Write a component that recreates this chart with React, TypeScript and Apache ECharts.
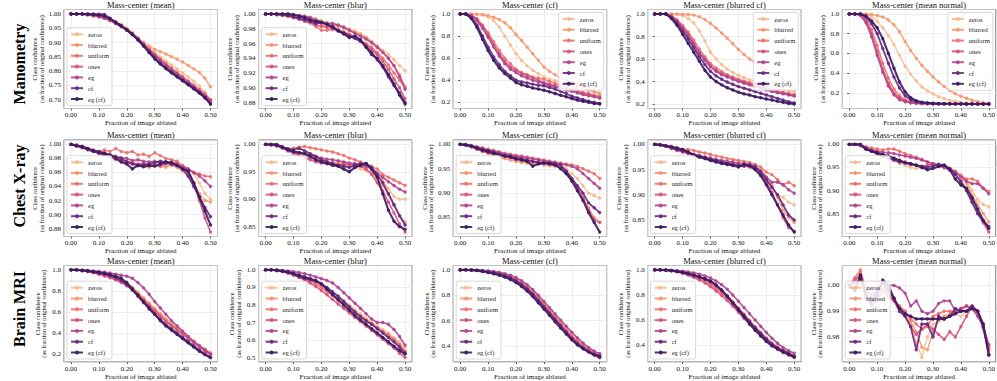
import React, { useEffect, useRef } from "react";
import * as echarts from "echarts";

// ---------- data ----------
const ablatedFractions = [0, 0.02, 0.04, 0.06, 0.08, 0.1, 0.12, 0.14, 0.16, 0.18, 0.2, 0.22, 0.24, 0.26, 0.28, 0.3, 0.32, 0.34, 0.36, 0.38, 0.4, 0.42, 0.44, 0.46, 0.48, 0.5];
const methods = ["zeros", "blurred", "uniform", "ones", "eg", "cf", "eg (cf)"];
const rowLabels = ["Manometry", "Chest X-ray", "Brain MRI"];
const columnTitles = ["Mass-center (mean)", "Mass-center (blur)", "Mass-center (cf)", "Mass-center (blurred cf)", "Mass-center (mean normal)"];

// y tick steps and label decimals per row
const yTickSteps = [[0.05, 0.02, 0.2, 0.2, 0.2], [0.02, 0.05, 0.05, 0.05, 0.05], [0.2, 0.1, 0.2, 0.2, 0.01]];
const yTickDecimals = [[2, 2, 1, 1, 1], [2, 2, 2, 2, 2], [1, 1, 1, 1, 2]];

// order of rows in each panel array: zeros, blurred, uniform, ones, eg, cf, eg (cf)
const manometryMean = [
  [1, 1, 1, .999, .997, .994, .99, .984, .975, .964, .951, .936, .918, .9, .882, .865, .85, .836, .822, .808, .794, .78, .765, .748, .726, .7],
  [1, 1, .999, .998, .995, .992, .987, .98, .97, .959, .947, .932, .916, .9, .888, .876, .868, .86, .851, .842, .832, .82, .808, .795, .775, .745],
  [1, 1, .999, .997, .994, .99, .985, .977, .967, .956, .943, .928, .912, .895, .877, .86, .843, .827, .811, .796, .781, .766, .751, .736, .72, .7],
  [1, 1, .999, .997, .994, .99, .985, .977, .967, .956, .943, .928, .911, .893, .874, .856, .839, .823, .807, .792, .777, .762, .747, .732, .716, .698],
  [1, 1, 1, .998, .995, .991, .986, .978, .968, .957, .944, .929, .912, .894, .874, .855, .837, .82, .804, .789, .774, .759, .744, .729, .713, .695],
  [1, 1, 1, 1, 1, .999, .998, .985, .972, .96, .946, .93, .912, .89, .868, .846, .828, .812, .797, .783, .769, .755, .74, .725, .708, .685],
  [1, 1, 1, .999, .998, .996, .993, .983, .97, .958, .944, .928, .909, .888, .865, .843, .825, .809, .794, .78, .766, .752, .738, .723, .707, .685],
];
const manometryBlur = [
  [1, 1, 1, 1, 1, .999, .998, .997, .996, .994, .991, .989, .987, .985, .983, .98, .977, .974, .969, .963, .957, .951, .945, .938, .93, .923],
  [1, 1, 1, .999, .999, .998, .997, .996, .993, .99, .986, .983, .984, .983, .981, .978, .975, .972, .967, .962, .955, .948, .94, .93, .918, .902],
  [1, 1, .999, .999, .998, .996, .994, .991, .988, .983, .978, .978, .979, .978, .976, .973, .969, .965, .96, .955, .948, .94, .931, .92, .91, .9],
  [1, 1, .999, .998, .997, .995, .993, .99, .988, .985, .983, .982, .98, .978, .975, .972, .968, .963, .958, .952, .945, .936, .925, .912, .9, .885],
  [1, 1, 1, 1, 1, .999, .998, .997, .995, .992, .989, .987, .987, .985, .982, .978, .974, .97, .966, .961, .955, .948, .94, .93, .915, .898],
  [1, 1, 1, .999, .998, .996, .994, .992, .99, .987, .988, .986, .983, .978, .974, .97, .967, .963, .956, .948, .938, .928, .915, .903, .893, .88],
  [1, 1, 1, 1, 1, .999, .997, .995, .992, .99, .989, .986, .982, .977, .973, .968, .97, .965, .955, .945, .94, .93, .918, .905, .89, .878],
];
const manometryCf = [
  [1, 1, 1, .998, .99, .975, .94, .88, .8, .72, .64, .58, .53, .49, .46, .43, .41, .395, .38, .365, .35, .335, .32, .305, .29, .28],
  [1, 1, 1, .998, .995, .985, .97, .95, .92, .875, .815, .76, .7, .64, .58, .52, .48, .45, .42, .4, .38, .36, .34, .32, .3, .28],
  [1, 1, .99, .96, .9, .83, .75, .67, .6, .55, .5, .47, .45, .43, .42, .41, .39, .37, .355, .34, .32, .305, .29, .28, .265, .255],
  [1, 1, .985, .95, .89, .81, .72, .64, .57, .52, .49, .46, .44, .42, .4, .38, .365, .35, .335, .32, .31, .295, .28, .27, .255, .24],
  [1, 1, .985, .94, .87, .79, .7, .62, .55, .5, .47, .44, .42, .4, .385, .37, .355, .34, .325, .31, .3, .285, .27, .26, .25, .24],
  [1, 1, .97, .9, .8, .7, .61, .54, .48, .44, .4, .385, .375, .365, .355, .35, .335, .32, .3, .28, .255, .24, .225, .21, .2, .19],
  [1, 1, .96, .88, .77, .67, .58, .51, .46, .42, .38, .36, .345, .33, .32, .31, .295, .28, .265, .25, .235, .22, .21, .2, .19, .185],
];
const manometryBlurredCf = [
  [1, 1, 1, 1, .995, .985, .96, .92, .85, .76, .66, .6, .55, .51, .48, .455, .435, .415, .4, .385, .37, .355, .34, .33, .32, .31],
  [1, 1, 1, 1, 1, .998, .995, .99, .975, .95, .915, .875, .83, .785, .735, .685, .64, .6, .565, .535, .505, .475, .45, .42, .39, .36],
  [1, 1, 1, .985, .95, .9, .84, .77, .69, .62, .56, .52, .49, .46, .44, .42, .405, .39, .375, .36, .345, .33, .315, .305, .295, .285],
  [1, 1, 1, .98, .94, .88, .82, .74, .66, .6, .54, .5, .47, .45, .43, .41, .395, .38, .365, .35, .335, .32, .305, .295, .285, .275],
  [1, 1, 1, .98, .935, .875, .81, .73, .65, .59, .53, .49, .46, .44, .42, .4, .385, .37, .355, .34, .325, .31, .3, .29, .28, .27],
  [1, 1, 1, .97, .92, .85, .78, .7, .62, .55, .49, .45, .42, .395, .375, .355, .34, .325, .31, .295, .28, .265, .25, .235, .22, .21],
  [1, 1, 1, .96, .9, .82, .74, .66, .58, .5, .44, .4, .37, .345, .325, .305, .29, .28, .265, .255, .245, .235, .225, .215, .205, .2],
];
const manometryMeanNormal = [
  [1, 1, 1, .995, .975, .925, .86, .78, .69, .58, .47, .39, .32, .26, .22, .19, .16, .14, .125, .115, .105, .1, .095, .092, .09, .09],
  [1, 1, 1, 1, .995, .985, .97, .94, .89, .82, .72, .63, .55, .48, .42, .36, .31, .265, .225, .19, .165, .145, .125, .11, .1, .095],
  [1, 1, .995, .95, .84, .68, .5, .35, .24, .17, .13, .11, .1, .095, .092, .09, .089, .089, .088, .088, .088, .087, .087, .087, .087, .087],
  [1, 1, .99, .93, .8, .62, .44, .3, .2, .15, .12, .1, .095, .092, .09, .09, .089, .089, .088, .088, .088, .087, .087, .087, .087, .087],
  [1, 1, .985, .91, .77, .58, .41, .27, .18, .13, .11, .1, .094, .091, .09, .089, .088, .088, .088, .087, .087, .087, .087, .087, .087, .087],
  [1, 1, 1, .97, .9, .8, .65, .5, .36, .25, .17, .13, .11, .1, .095, .092, .09, .089, .088, .088, .088, .087, .087, .087, .087, .087],
  [1, 1, 1, .98, .93, .86, .75, .6, .45, .31, .21, .15, .12, .105, .098, .094, .092, .09, .089, .088, .088, .087, .087, .087, .087, .087],
];

const chestMean = [
  [1, .998, .996, .993, .99, .988, .985, .983, .98, .978, .975, .972, .97, .969, .967, .97, .968, .967, .972, .97, .968, .965, .958, .945, .93, .922],
  [1, .997, .996, .994, .99, .987, .984, .982, .978, .976, .975, .973, .972, .97, .968, .97, .972, .968, .97, .967, .962, .955, .945, .93, .92, .918],
  [1, .999, .997, .994, .99, .99, .992, .99, .994, .99, .988, .99, .985, .986, .983, .988, .984, .98, .978, .976, .97, .965, .96, .958, .955, .954],
  [1, .998, .995, .992, .99, .987, .985, .982, .98, .978, .976, .974, .972, .973, .97, .971, .969, .972, .975, .973, .968, .96, .945, .92, .895, .875],
  [1, .999, .997, .994, .992, .99, .988, .985, .983, .981, .98, .977, .978, .976, .975, .976, .974, .973, .972, .971, .968, .965, .96, .955, .948, .94],
  [1, .998, .996, .993, .99, .988, .986, .984, .982, .98, .975, .972, .97, .971, .972, .974, .976, .975, .972, .97, .965, .955, .94, .925, .91, .897],
  [1, .998, .997, .994, .991, .989, .987, .985, .98, .975, .972, .965, .97, .968, .97, .969, .972, .975, .974, .97, .965, .962, .945, .925, .905, .885],
];
const chestBlur = [
  [1, .999, .997, .995, .99, .985, .98, .978, .975, .972, .97, .968, .966, .964, .962, .96, .958, .955, .952, .95, .945, .935, .92, .905, .9, .9],
  [1, .999, .997, .994, .99, .986, .982, .98, .977, .974, .971, .969, .967, .966, .965, .964, .962, .96, .955, .948, .938, .925, .91, .89, .87, .858],
  [1, 1, .998, .996, .992, .993, .995, .996, .994, .992, .99, .988, .986, .983, .98, .975, .972, .968, .965, .96, .955, .945, .94, .935, .93, .925],
  [1, .999, .997, .993, .988, .984, .98, .976, .972, .968, .966, .965, .964, .962, .964, .963, .963, .96, .955, .945, .93, .915, .895, .875, .855, .84],
  [1, .999, .998, .995, .99, .986, .985, .983, .98, .978, .975, .973, .972, .97, .968, .966, .965, .962, .96, .955, .948, .94, .932, .925, .918, .913],
  [1, 1, .998, .995, .992, .99, .993, .988, .983, .978, .972, .968, .965, .962, .96, .958, .962, .965, .964, .958, .945, .93, .91, .89, .87, .853],
  [1, 1, 1, .995, .99, .987, .985, .983, .978, .972, .968, .965, .962, .96, .955, .95, .958, .962, .965, .955, .94, .91, .88, .86, .85, .845],
];
const chestCf = [
  [1, .998, .995, .99, .985, .982, .978, .975, .972, .97, .968, .965, .963, .962, .96, .958, .957, .956, .955, .95, .94, .93, .915, .9, .895, .89],
  [1, .998, .995, .99, .986, .982, .978, .974, .971, .968, .965, .963, .962, .96, .96, .958, .956, .955, .953, .94, .925, .91, .89, .87, .85, .84],
  [1, 1, .998, .995, .993, .99, .988, .985, .982, .98, .978, .976, .974, .972, .97, .968, .966, .964, .962, .96, .958, .955, .95, .945, .94, .93],
  [1, .998, .995, .99, .986, .983, .98, .977, .975, .973, .97, .968, .966, .965, .963, .962, .96, .958, .955, .945, .93, .91, .89, .865, .845, .84],
  [1, 1, .997, .994, .99, .988, .986, .983, .98, .978, .975, .974, .972, .97, .968, .966, .964, .962, .96, .958, .955, .95, .94, .93, .92, .91],
  [1, .999, .997, .993, .99, .987, .984, .98, .977, .975, .972, .97, .968, .965, .963, .962, .962, .96, .958, .945, .93, .915, .9, .88, .87, .86],
  [1, .999, .996, .992, .988, .985, .982, .978, .976, .974, .97, .968, .965, .955, .96, .962, .96, .958, .95, .94, .925, .905, .885, .86, .84, .82],
];
const chestBlurredCf = [
  [1, .999, .997, .993, .99, .987, .984, .981, .978, .975, .972, .97, .968, .966, .963, .96, .96, .958, .955, .945, .93, .915, .9, .895, .885, .88],
  [1, .999, .996, .992, .988, .985, .982, .978, .975, .972, .97, .968, .966, .964, .962, .96, .958, .956, .953, .945, .935, .92, .895, .87, .855, .845],
  [1, 1, .998, .996, .993, .99, .99, .988, .985, .983, .98, .977, .975, .972, .97, .968, .966, .964, .96, .955, .945, .94, .93, .92, .925, .918],
  [1, .999, .996, .992, .988, .985, .982, .978, .975, .973, .97, .968, .966, .963, .96, .958, .957, .955, .95, .94, .925, .905, .88, .855, .835, .828],
  [1, .999, .997, .994, .99, .987, .984, .98, .977, .975, .973, .97, .968, .966, .965, .963, .962, .96, .957, .948, .935, .925, .925, .92, .91, .903],
  [1, .999, .997, .994, .99, .987, .984, .98, .977, .974, .97, .968, .965, .962, .96, .958, .957, .958, .955, .945, .93, .915, .9, .88, .86, .85],
  [1, .999, .997, .995, .993, .99, .985, .978, .975, .972, .968, .965, .962, .96, .958, .955, .96, .958, .95, .938, .92, .9, .88, .86, .84, .826],
];
const chestMeanNormal = [
  [1, 1, .998, .99, .985, .98, .975, .97, .965, .958, .955, .95, .948, .95, .952, .955, .953, .95, .945, .94, .935, .92, .9, .88, .87, .865],
  [1, 1, .997, .99, .985, .98, .976, .973, .97, .966, .962, .958, .955, .953, .955, .957, .955, .952, .948, .94, .93, .915, .89, .87, .85, .832],
  [1, 1, .998, .995, .992, .99, .988, .99, .99, .985, .98, .976, .972, .968, .962, .958, .955, .952, .948, .942, .932, .925, .925, .92, .905, .898],
  [1, 1, .997, .99, .985, .98, .975, .97, .968, .965, .962, .958, .955, .952, .955, .958, .954, .95, .945, .935, .92, .9, .875, .85, .83, .81],
  [1, 1, .998, .993, .988, .985, .983, .982, .98, .977, .975, .972, .97, .966, .962, .958, .955, .95, .945, .94, .93, .92, .915, .915, .905, .893],
  [1, 1, 1, .99, .985, .98, .975, .97, .966, .962, .96, .957, .955, .952, .95, .953, .957, .955, .948, .935, .92, .9, .875, .85, .835, .822],
  [1, 1, 1, .99, .985, .982, .978, .975, .97, .965, .96, .958, .955, .95, .945, .948, .952, .955, .945, .925, .912, .905, .885, .86, .835, .818],
];

const brainMean = [
  [1, 1, .995, .99, .985, .975, .965, .95, .93, .91, .88, .84, .79, .74, .69, .64, .59, .54, .49, .45, .41, .37, .33, .29, .25, .22],
  [1, 1, .995, .99, .98, .97, .958, .943, .925, .9, .87, .83, .78, .73, .68, .63, .58, .53, .48, .44, .4, .36, .32, .28, .24, .21],
  [1, 1, .995, .988, .978, .966, .952, .935, .915, .89, .86, .82, .77, .72, .67, .62, .57, .52, .48, .44, .4, .36, .32, .28, .25, .21],
  [1, 1, .994, .985, .972, .958, .943, .925, .905, .88, .85, .81, .76, .71, .66, .61, .56, .51, .47, .43, .39, .35, .31, .27, .23, .2],
  [1, 1, .998, .995, .99, .985, .978, .97, .96, .95, .94, .92, .88, .83, .77, .7, .64, .58, .52, .47, .42, .37, .32, .28, .24, .2],
  [1, 1, .995, .99, .98, .97, .96, .945, .925, .9, .86, .81, .75, .69, .63, .58, .53, .48, .44, .4, .36, .32, .28, .24, .2, .17],
  [1, 1, .995, .99, .985, .975, .965, .955, .94, .92, .88, .82, .76, .7, .64, .58, .52, .47, .43, .39, .35, .31, .27, .23, .2, .17],
];
const brainBlur = [
  [1, 1, .998, .995, .99, .98, .97, .958, .945, .93, .91, .89, .87, .85, .825, .8, .775, .75, .725, .7, .68, .66, .64, .615, .59, .555],
  [1, 1, .997, .993, .987, .977, .966, .953, .94, .925, .905, .882, .86, .836, .81, .785, .76, .738, .715, .693, .67, .648, .625, .6, .57, .535],
  [1, 1, .997, .992, .985, .975, .963, .95, .935, .918, .898, .876, .852, .828, .803, .778, .755, .732, .71, .69, .67, .65, .63, .605, .575, .535],
  [1, 1, .996, .99, .982, .97, .957, .942, .925, .905, .882, .858, .832, .806, .78, .755, .73, .705, .68, .655, .63, .605, .58, .555, .525, .5],
  [1, 1, .999, .997, .994, .99, .985, .978, .97, .96, .95, .94, .925, .9, .87, .84, .81, .78, .75, .72, .7, .7, .69, .66, .62, .57],
  [1, 1, .997, .992, .985, .975, .962, .95, .945, .935, .92, .9, .875, .85, .82, .79, .76, .735, .71, .69, .665, .64, .615, .59, .56, .525],
  [1, 1, .998, .994, .988, .98, .97, .96, .95, .94, .92, .89, .86, .83, .8, .77, .74, .715, .69, .665, .64, .615, .59, .565, .54, .52],
];
const brainCf = [
  [1, 1, 1, .998, .995, .99, .984, .976, .966, .952, .932, .905, .872, .832, .785, .735, .685, .635, .585, .54, .49, .45, .415, .385, .36, .34],
  [1, 1, 1, .997, .993, .987, .98, .972, .962, .948, .928, .9, .866, .826, .78, .73, .68, .63, .58, .53, .48, .44, .405, .375, .35, .33],
  [1, 1, 1, .997, .993, .987, .98, .97, .958, .942, .92, .892, .858, .818, .772, .722, .672, .622, .572, .522, .475, .435, .4, .37, .345, .325],
  [1, 1, .999, .996, .991, .984, .976, .966, .953, .936, .913, .884, .85, .81, .764, .715, .665, .615, .565, .515, .47, .43, .395, .365, .34, .31],
  [1, 1, 1, .998, .996, .992, .987, .98, .97, .958, .94, .915, .883, .845, .8, .752, .703, .654, .605, .556, .51, .465, .425, .39, .36, .34],
  [1, 1, .999, .996, .992, .986, .978, .968, .955, .938, .915, .885, .85, .808, .76, .71, .66, .61, .56, .51, .46, .42, .385, .355, .33, .31],
  [1, 1, .998, .994, .988, .98, .97, .958, .943, .925, .9, .87, .833, .79, .742, .692, .642, .592, .542, .495, .45, .41, .38, .355, .335, .32],
];
const brainBlurredCf = [
  [1, 1, .999, .996, .99, .982, .972, .96, .945, .925, .9, .87, .835, .795, .75, .7, .65, .6, .55, .505, .46, .42, .39, .36, .34, .32],
  [1, 1, .999, .995, .989, .98, .968, .954, .937, .916, .89, .86, .825, .785, .74, .69, .64, .59, .54, .495, .45, .41, .38, .355, .335, .315],
  [1, 1, .998, .994, .987, .977, .964, .948, .93, .908, .88, .848, .812, .772, .728, .68, .63, .58, .53, .485, .44, .405, .375, .35, .33, .31],
  [1, 1, .997, .992, .984, .972, .958, .94, .92, .896, .866, .832, .795, .755, .71, .662, .613, .564, .516, .472, .43, .395, .365, .34, .32, .3],
  [1, 1, 1, .998, .995, .99, .984, .976, .966, .952, .935, .912, .882, .845, .8, .75, .7, .65, .6, .55, .5, .455, .415, .38, .355, .335],
  [1, 1, .998, .994, .988, .98, .97, .958, .944, .928, .905, .875, .835, .79, .74, .69, .64, .59, .54, .495, .45, .41, .38, .355, .335, .31],
  [1, 1, .998, .994, .988, .98, .97, .958, .944, .93, .912, .88, .84, .79, .735, .68, .625, .57, .52, .475, .43, .395, .37, .345, .325, .305],
];
const brainMeanNormal = [
  [1, 1.001, 1.003, .998, .997, .996, .999, .995, .994, .992, .989, .985, .978, .972, .98, .985, .986, .987, .988, .989, .988, .99, .991, .99, .985, .974],
  [1, 1.002, 1.005, .999, .995, .997, 1.0, .996, .995, .991, .99, .986, .982, .976, .975, .982, .987, .988, .989, .99, .99, .992, .991, .989, .984, .975],
  [1, 1.003, 1.006, .998, .996, .998, 1.002, .997, .994, .992, .99, .987, .985, .983, .984, .988, .989, .99, .99, .99, .991, .992, .991, .99, .983, .975],
  [1, 1.002, 1.004, .996, .992, .994, .998, .996, .994, .99, .988, .984, .981, .983, .985, .983, .981, .979, .982, .98, .984, .988, .992, .99, .984, .976],
  [1, 1.001, 1.002, .998, .996, .999, 1.001, 1.0, 1.0, .999, .997, .992, .994, .99, .989, .99, .993, .994, .994, .99, .991, .992, .991, .988, .984, .977],
  [1, .998, 1.003, .995, .993, .998, 1.001, .998, .995, .99, .988, .984, .975, .985, .985, .98, .988, .987, .988, .991, .99, .99, .992, .99, .984, .973],
  [1, .998, 1.004, .996, .994, .996, 1.002, 1.0, .995, .991, .989, .988, .987, .987, .987, .987, .987, .987, .988, .989, .99, .99, .991, .99, .985, .973],
];

const panelRows = [
  [manometryMean, manometryBlur, manometryCf, manometryBlurredCf, manometryMeanNormal],
  [chestMean, chestBlur, chestCf, chestBlurredCf, chestMeanNormal],
  [brainMean, brainBlur, brainCf, brainBlurredCf, brainMeanNormal],
];
// legend corner per panel: "ll" lower-left, "ur" upper-right
const legendCorners = [["ll", "ll", "ur", "ur", "ur"], ["ll", "ll", "ll", "ll", "ll"], ["ll", "ll", "ll", "ll", "ll"]];

// ---------- style / layout ----------
const FONT = '"Liberation Serif", "DejaVu Serif", "Times New Roman", serif';
const COLORS = ["#f9b98c", "#f7966e", "#ef6f6c", "#d8527c", "#b0468f", "#6a2a80", "#3c1c63"];
const WIDTHS = [1.3, 1.4, 1.5, 1.6, 1.7, 1.9, 2.1];
const W = 997;
const H = 381;
const COL_LEFT = [64, 258.6, 453.2, 647.7, 842.3];
const PLOT_W = 153.5;
const ROW_TOP = [9.5, 140, 265.5];
const ROW_H = [99, 96.5, 96.5];
const ROW_LABEL_Y = [64, 186, 309];

function buildOption() {
  const grids: any[] = [];
  const xAxes: any[] = [];
  const yAxes: any[] = [];
  const series: any[] = [];
  const legends: any[] = [];
  const graphics: any[] = [];

  panelRows.forEach((row, r) => {
    graphics.push({
      type: "text",
      x: 19,
      y: ROW_LABEL_Y[r],
      rotation: Math.PI / 2,
      style: {
        text: rowLabels[r],
        fontSize: 16,
        fontWeight: "bold",
        fontFamily: FONT,
        fill: "#000",
        align: "center",
        verticalAlign: "middle",
        textAlign: "center",
        textVerticalAlign: "middle",
      },
    });
    row.forEach((panel, c) => {
      const g = r * 5 + c;
      const left = COL_LEFT[c];
      const top = ROW_TOP[r];
      const h = ROW_H[r];
      let lo = Infinity;
      let hi = -Infinity;
      panel.forEach((s) => s.forEach((v) => { lo = Math.min(lo, v); hi = Math.max(hi, v); }));
      const pad = (hi - lo) * 0.05;
      const step = yTickSteps[r][c];
      const dec = yTickDecimals[r][c];

      grids.push({
        left, top, width: PLOT_W, height: h,
        show: true, borderColor: "#4a4a4a", borderWidth: 0.8, backgroundColor: "#fff",
        containLabel: false, outerBoundsMode: "none",
      });
      xAxes.push({
        type: "value", gridIndex: g, min: -0.025, max: 0.525,
        minInterval: 0.1, maxInterval: 0.1, splitNumber: 5,
        axisLine: { show: false },
        axisTick: { show: true, length: 2, lineStyle: { color: "#333", width: 0.8 } },
        axisLabel: {
          fontSize: 7, fontFamily: FONT, color: "#111", margin: 3,
          showMinLabel: false, showMaxLabel: false,
          formatter: (v: number) => v.toFixed(2),
        },
        splitLine: { show: true, lineStyle: { color: "#e6e6e6", width: 0.7 } },
        name: "Fraction of image ablated", nameLocation: "middle", nameGap: 11,
        nameTextStyle: { fontSize: 7, fontFamily: FONT, color: "#111" },
      });
      yAxes.push({
        type: "value", gridIndex: g, min: lo - pad, max: hi + pad,
        minInterval: step, maxInterval: step, splitNumber: 5,
        axisLine: { show: false },
        axisTick: { show: true, length: 2, lineStyle: { color: "#333", width: 0.8 } },
        axisLabel: {
          fontSize: 7, fontFamily: FONT, color: "#111", margin: 3,
          showMinLabel: false, showMaxLabel: false,
          formatter: (v: number) => v.toFixed(dec),
        },
        splitLine: { show: true, lineStyle: { color: "#e6e6e6", width: 0.7 } },
        name: "Class confidence\n(as fraction of original confidence)",
        nameLocation: "middle", nameGap: 17,
        nameTextStyle: { fontSize: 6.3, lineHeight: 6.6, fontFamily: FONT, color: "#111" },
      });
      graphics.push({
        type: "text",
        x: left + PLOT_W / 2,
        y: top - 5,
        style: {
          text: columnTitles[c], fontSize: 8.5, fontFamily: FONT, fill: "#111",
          align: "center", verticalAlign: "middle", textAlign: "center", textVerticalAlign: "middle",
        },
      });
      panel.forEach((vals, m) => {
        series.push({
          type: "line", name: methods[m], xAxisIndex: g, yAxisIndex: g,
          data: ablatedFractions.map((x, i) => [x, vals[i]]),
          symbol: "circle", symbolSize: 3.4,
          lineStyle: { color: COLORS[m], width: WIDTHS[m], opacity: 0.9 },
          itemStyle: { color: COLORS[m], opacity: 0.9 },
          emphasis: { disabled: true },
          silent: true, z: 2 + m,
        });
      });
      const corner = legendCorners[r][c];
      const lg: any = {
        orient: "vertical", itemWidth: 12, itemHeight: 5, itemGap: 3.8,
        padding: [3, 3, 3, 3], backgroundColor: "rgba(255,255,255,0.85)",
        borderColor: "#cfcfcf", borderWidth: 0.8, borderRadius: 2,
        textStyle: { fontSize: 6.5, fontFamily: FONT, color: "#222" },
        data: methods, selectedMode: false, z: 20,
      };
      if (corner === "ll") {
        lg.left = left + 3;
        lg.bottom = H - (top + h) + 3;
      } else {
        lg.right = W - (left + PLOT_W) + 3;
        lg.top = top + 3;
      }
      legends.push(lg);
    });
  });

  return {
    animation: false,
    backgroundColor: "#fff",
    textStyle: { fontFamily: FONT },
    grid: grids,
    xAxis: xAxes,
    yAxis: yAxes,
    series,
    legend: legends,
    graphic: graphics,
  };
}

export default function App() {
  const ref = useRef<HTMLDivElement>(null);
  useEffect(() => {
    if (!ref.current) return;
    const chart = echarts.init(ref.current, undefined, { renderer: "svg" });
    chart.setOption(buildOption());
    return () => chart.dispose();
  }, []);
  return (
    <div
      ref={ref}
      style={{ position: "fixed", left: 0, top: 0, width: W, height: H, background: "#fff" }}
    />
  );
}
